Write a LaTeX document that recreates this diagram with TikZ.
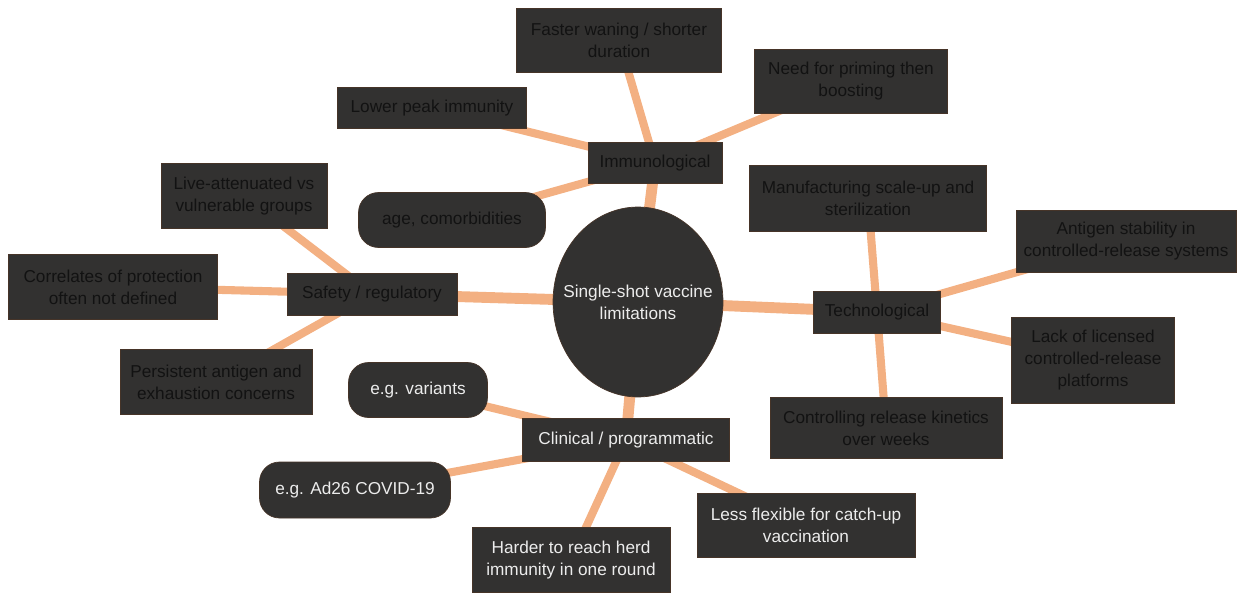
\documentclass[tikz,border=0pt]{standalone}
\usepackage{fontspec}
\setmainfont{Liberation Sans}
\usetikzlibrary{
  positioning, shapes.geometric, backgrounds
}
\definecolor{boxfill}{RGB}{50,49,48}
\definecolor{boxrim}{RGB}{70,52,40}
\definecolor{linkcol}{RGB}{243,176,130}
\definecolor{darktext}{RGB}{18,18,18}
\definecolor{lighttext}{RGB}{236,236,236}

\begin{document}
\begin{tikzpicture}[
  x=0.02cm, y=-0.02cm,
  box/.style={rectangle, draw=boxrim, line width=0.4pt, fill=boxfill,
              align=center, inner sep=1pt, text=darktext,
              font=\fontsize{9.8}{12.6}\selectfont},
  pill/.style={box, rounded corners=0.4cm, text=lighttext},
  bright/.style={text=lighttext},
  sz/.style 2 args={minimum width=#1, minimum height=#2},
  hub/.style={ellipse, fill=boxfill, draw=boxrim, inner xsep=-0.3cm,
              inner ysep=0pt, minimum width=3.4cm, minimum height=3.8cm,
              align=center, text=lighttext,
              font=\fontsize{9.8}{12.6}\selectfont},
  trunk/.style={draw=linkcol, line width=6.2pt},
  twig/.style={draw=linkcol, line width=4.6pt},
]
\useasboundingbox (0,0) rectangle (1239,595);

% ---- Zentrum ----
\node[hub] (core) at (638,302) {Single-shot vaccine\\limitations};

% ---- Kategorien ----
\node[box, sz={2.68cm}{0.82cm}] (immuno) at (655,163) {Immunological};
\node[box, sz={2.54cm}{0.84cm}] (techno) at (877,312) {Technological};
\node[box, sz={3.4cm}{0.84cm}]  (safety) at (372,294) {Safety / regulatory};
\node[box, bright, sz={4.14cm}{0.86cm}] (clinic) at (626,440) {Clinical / programmatic};

% ---- Immunological ----
\node[box, sz={3.78cm}{0.82cm}] (lowpeak) at (432,108) {Lower peak immunity};
\node[box, sz={4.1cm}{1.28cm}]  (waning)  at (619,40)  {Faster waning / shorter\\duration};
\node[box, sz={3.86cm}{1.28cm}] (priming) at (851,81)  {Need for priming then\\boosting};
\node[pill, text=darktext, sz={3.74cm}{1.1cm}] (comorb) at (452,220) {age, comorbidities};

% ---- Technological ----
\node[box, sz={4.74cm}{1.32cm}] (manufac) at (868,198)  {Manufacturing scale-up and\\sterilization};
\node[box, sz={4.4cm}{1.24cm}]  (stabil)  at (1126,241) {Antigen stability in\\controlled-release systems};
\node[box, sz={3.26cm}{1.72cm}] (licens)  at (1093,360) {Lack of licensed\\controlled-release\\platforms};
\node[box, sz={4.64cm}{1.22cm}] (kinetic) at (886,428)  {Controlling release kinetics\\over weeks};

% ---- Safety / regulatory ----
\node[box, sz={3.32cm}{1.3cm}]  (liveatt) at (244,196) {Live-attenuated vs\\vulnerable groups};
\node[box, sz={4.18cm}{1.3cm}]  (correl)  at (113,287) {Correlates of protection\\often not defined};
\node[box, sz={3.84cm}{1.3cm}]  (persist) at (216,382) {Persistent antigen and\\exhaustion concerns};

% ---- Clinical / programmatic ----
\node[pill, sz={2.78cm}{1.1cm}] (variant) at (418,390) {e.g. variants};
\node[pill, sz={3.82cm}{1.12cm}] (adcovid) at (355,490) {e.g. Ad26 COVID-19};
\node[box, bright, sz={3.96cm}{1.3cm}] (herd)  at (571,560) {Harder to reach herd\\immunity in one round};
\node[box, bright, sz={4.36cm}{1.28cm}] (catchup) at (806,525) {Less flexible for catch-up\\vaccination};

% ---- Verbindungen ----
\begin{pgfonlayer}{background}
  \foreach \k in {immuno, techno, safety, clinic}
    \draw[trunk] (core.center) -- (\k.center);
  \foreach \c in {lowpeak, waning, priming, comorb}
    \draw[twig] (immuno.center) -- (\c.center);
  \foreach \c in {manufac, stabil, licens, kinetic}
    \draw[twig] (techno.center) -- (\c.center);
  \foreach \c in {liveatt, correl, persist}
    \draw[twig] (safety.center) -- (\c.center);
  \foreach \c in {variant, adcovid, herd, catchup}
    \draw[twig] (clinic.center) -- (\c.center);
\end{pgfonlayer}

\end{tikzpicture}
\end{document}
